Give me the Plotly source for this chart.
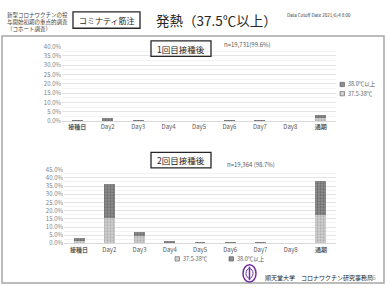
import plotly.graph_objects as go

W, H = 387, 290
categories = ["接種日", "Day2", "Day3", "Day4", "Day5", "Day6", "Day7", "Day8", "通期"]
dose1_low = [0.3, 0.7, 0.3, 0.15, 0.15, 0.2, 0.2, 0.1, 1.6]     # 37.5-38℃
dose1_high = [0.25, 0.8, 0.3, 0.15, 0.15, 0.2, 0.2, 0.1, 1.8]   # 38.0℃以上
dose2_low = [1.5, 15.5, 4.3, 0.6, 0.3, 0.2, 0.2, 0.2, 17.1]
dose2_high = [1.7, 20.8, 2.8, 0.6, 0.3, 0.2, 0.2, 0.1, 21.2]
y1_ticks = [0, 5, 10, 15, 20, 25, 30, 35, 40]
y2_ticks = [0, 5, 10, 15, 20, 25, 30, 35, 40, 45]
FONT = "Noto Sans CJK JP"

def px(x):
    return x / W

def py(y):
    return 1 - y / H

fig = go.Figure()
LOW_C, HIGH_C = "#d0d0d0", "#8c8c8c"
low_style = dict(color=LOW_C, pattern=dict(shape=".", fgcolor="#808080", size=3, solidity=0.35), line=dict(width=0))
high_style = dict(color=HIGH_C, pattern=dict(shape=".", fgcolor="#404040", size=3, solidity=0.35), line=dict(width=0))

fig.add_trace(go.Bar(x=categories, y=dose1_low, name="37.5-38℃", marker=low_style, width=0.36,
                     xaxis="x", yaxis="y"))
fig.add_trace(go.Bar(x=categories, y=dose1_high, name="38.0℃以上", marker=high_style, width=0.36,
                     xaxis="x", yaxis="y"))
fig.add_trace(go.Bar(x=categories, y=dose2_low, name="37.5-38℃", marker=low_style, width=0.36,
                     xaxis="x2", yaxis="y2"))
fig.add_trace(go.Bar(x=categories, y=dose2_high, name="38.0℃以上", marker=high_style, width=0.36,
                     xaxis="x2", yaxis="y2"))

axis_common = dict(showgrid=True, gridcolor="#e4e4e4", gridwidth=1, zeroline=False,
                   tickfont=dict(size=6, color="#7f7f7f", family=FONT),
                   showline=False, ticks="", minor=dict(showgrid=True, gridcolor="#f2f2f2", dtick=2.5))
tick_text_x = ["<b>接種日</b>" if c == "接種日" else ("<b>通期</b>" if c == "通期" else c) for c in categories]
xaxis_common = dict(showgrid=False, showline=True, linecolor="#d9d9d9", linewidth=1, ticks="",
                    tickfont=dict(size=6, color="#595959", family=FONT), tickangle=0,
                    tickvals=categories, ticktext=tick_text_x)

fig.update_layout(
    width=W, height=H, margin=dict(l=0, r=0, t=0, b=0),
    paper_bgcolor="white", plot_bgcolor="white", barmode="stack",
    font=dict(family=FONT), showlegend=False,
    xaxis=dict(domain=[px(62), px(336)], anchor="y", **xaxis_common),
    yaxis=dict(domain=[py(120), py(43)], range=[0, 40], tickvals=y1_ticks,
               ticktext=[f"{v}.0%" for v in y1_ticks], anchor="x", **axis_common),
    xaxis2=dict(domain=[px(64), px(336)], anchor="y2", **xaxis_common),
    yaxis2=dict(domain=[py(246), py(170)], range=[0, 45], tickvals=y2_ticks,
                ticktext=[f"{v}.0%" for v in y2_ticks], anchor="x2", **axis_common),
)

anns = [
    dict(x=px(5), y=py(4), text="新型コロナワクチンの投<br>与開始初期の重点的調査<br>（コホート調査）",
         font=dict(size=5.5, color="#404040"), align="left", xanchor="left", yanchor="top"),
    dict(x=px(106.5), y=py(15.5), text="コミナティ筋注", font=dict(size=8, color="#262626"),
         xanchor="center", yanchor="middle"),
    dict(x=px(216), y=py(15), text="発熱（37.5℃以上）", font=dict(size=13.5, color="#262626"),
         xanchor="center", yanchor="middle"),
    dict(x=px(285), y=py(10.5), text="Data Cutoff Date 2021/6/4 8:00", font=dict(size=4.5, color="#404040"),
         xanchor="left", yanchor="middle"),
    dict(x=px(181), y=py(45), text="1回目接種後", font=dict(size=8.5, color="#262626"),
         xanchor="center", yanchor="middle"),
    dict(x=px(222), y=py(40.5), text="n=19,731(99.6%)", font=dict(size=6, color="#595959"),
         xanchor="left", yanchor="middle"),
    dict(x=px(181), y=py(160), text="2回目接種後", font=dict(size=8.5, color="#262626"),
         xanchor="center", yanchor="middle"),
    dict(x=px(225), y=py(165), text="n=19,364 (98.7%)", font=dict(size=6, color="#595959"),
         xanchor="left", yanchor="middle"),
    dict(x=px(263), y=py(281), text="順天堂大学　コロナワクチン研究事務局", font=dict(size=6, color="#262626"),
         xanchor="left", yanchor="middle"),
    dict(x=px(374), y=py(281), text="6", font=dict(size=7, color="#a6a6a6"),
         xanchor="center", yanchor="middle"),
    # legends
    dict(x=px(346), y=py(82), text="38.0℃以上", font=dict(size=5.5, color="#595959"),
         xanchor="left", yanchor="middle"),
    dict(x=px(346), y=py(91.5), text="37.5-38℃", font=dict(size=5.5, color="#595959"),
         xanchor="left", yanchor="middle"),
    dict(x=px(181), y=py(262), text="37.5-38℃", font=dict(size=5.5, color="#595959"),
         xanchor="left", yanchor="middle"),
    dict(x=px(235), y=py(262), text="38.0℃以上", font=dict(size=5.5, color="#595959"),
         xanchor="left", yanchor="middle"),
]
for a in anns:
    a.update(xref="paper", yref="paper", showarrow=False)
    fig.add_annotation(**a)

def swatch(x, y, color):
    return dict(type="rect", x0=px(x), x1=px(x + 4.5), y0=py(y + 2.25), y1=py(y - 2.25),
                fillcolor=color, line=dict(color="#595959", width=0.6))

shapes = [
    dict(type="rect", x0=px(2), x1=px(384), y0=py(287), y1=py(32), line=dict(color="#a6a6a6", width=1.5)),
    dict(type="rect", x0=px(73), x1=px(140), y0=py(24), y1=py(7), line=dict(color="#262626", width=1.3)),
    dict(type="rect", x0=px(151), x1=px(211), y0=py(53), y1=py(37), line=dict(color="#262626", width=1.3)),
    dict(type="rect", x0=px(151), x1=px(211), y0=py(168), y1=py(152), line=dict(color="#262626", width=1.3)),
    dict(type="circle", x0=px(243), x1=px(256), y0=py(286), y1=py(268), line=dict(color="#7030a0", width=1.5)),
    dict(type="line", x0=px(249.5), x1=px(249.5), y0=py(284), y1=py(270), line=dict(color="#7030a0", width=1.5)),
    dict(type="circle", x0=px(246), x1=px(253), y0=py(282), y1=py(272), line=dict(color="#7030a0", width=1)),
    swatch(340, 82, HIGH_C),
    swatch(340, 91.5, LOW_C),
    swatch(175, 262, LOW_C),
    swatch(229, 262, HIGH_C),
]
for s in shapes:
    s.update(xref="paper", yref="paper", layer="above")
    fig.add_shape(**s)

fig.write_html("out.html")
